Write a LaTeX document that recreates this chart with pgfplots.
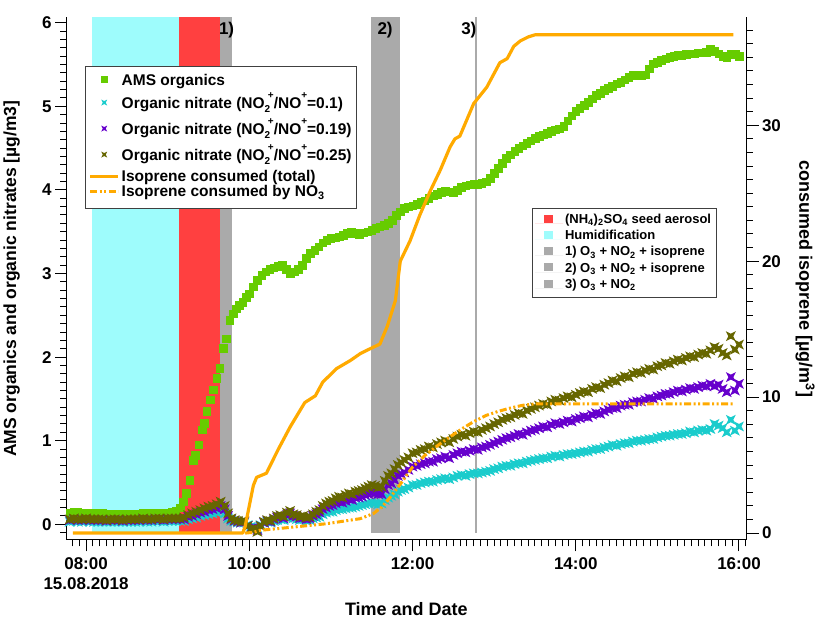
\documentclass[border=0pt]{standalone}
\usepackage{fontspec}
\setmainfont{Liberation Sans}
\usepackage{pgfplots}
\usepackage{pgfplotstable}
\pgfplotsset{compat=1.18}
\definecolor{amsgreen}{RGB}{102,204,0}
\definecolor{nitcyan}{RGB}{26,204,204}
\definecolor{nitpurple}{RGB}{102,0,204}
\definecolor{nitolive}{RGB}{102,102,0}
\definecolor{isoorange}{RGB}{255,170,0}
\definecolor{humcyan}{RGB}{158,252,252}
\definecolor{seedred}{RGB}{255,64,64}
\definecolor{bandgrey}{RGB}{170,170,170}

\newcommand\nsub[1]{\raisebox{-0.28em}{\fontsize{10}{10}\selectfont #1}}
\newcommand\nsup[1]{\raisebox{0.62em}{\fontsize{10}{10}\selectfont #1}}
\newcommand\strutx[2]{\rule[-#2]{0pt}{\dimexpr#1+#2\relax}}

\pgfdeclareplotmark{xstar}{%
  \pgfpathmoveto{\pgfqpoint{\pgfplotmarksize}{\pgfplotmarksize}}%
  \pgfpathlineto{\pgfqpoint{0pt}{0.5\pgfplotmarksize}}%
  \pgfpathlineto{\pgfqpoint{-\pgfplotmarksize}{\pgfplotmarksize}}%
  \pgfpathlineto{\pgfqpoint{-0.5\pgfplotmarksize}{0pt}}%
  \pgfpathlineto{\pgfqpoint{-\pgfplotmarksize}{-\pgfplotmarksize}}%
  \pgfpathlineto{\pgfqpoint{0pt}{-0.5\pgfplotmarksize}}%
  \pgfpathlineto{\pgfqpoint{\pgfplotmarksize}{-\pgfplotmarksize}}%
  \pgfpathlineto{\pgfqpoint{0.5\pgfplotmarksize}{0pt}}%
  \pgfpathclose
  \pgfusepathqfill}

\pgfplotstableread{
h v
7.80 0.14
7.85 0.15
7.90 0.15
7.95 0.14
8.00 0.14
8.05 0.14
8.10 0.13
8.15 0.13
8.20 0.13
8.25 0.12
8.30 0.12
8.35 0.12
8.40 0.12
8.45 0.11
8.50 0.12
8.55 0.12
8.60 0.12
8.65 0.12
8.70 0.13
8.75 0.13
8.80 0.13
8.85 0.14
8.90 0.14
8.95 0.14
9.00 0.14
9.05 0.15
9.10 0.16
9.15 0.20
9.19 0.27
9.23 0.37
9.27 0.53
9.31 0.77
9.34 0.83
9.38 0.95
9.42 1.13
9.45 1.21
9.48 1.35
9.52 1.49
9.56 1.61
9.60 1.75
9.64 1.87
9.68 2.11
9.72 2.22
9.76 2.44
9.80 2.52
9.84 2.58
9.88 2.62
9.92 2.66
9.96 2.72
10.00 2.76
10.05 2.84
10.10 2.92
10.15 2.98
10.20 3.02
10.25 3.05
10.30 3.07
10.35 3.09
10.40 3.10
10.45 3.05
10.50 3.00
10.55 3.02
10.60 3.05
10.65 3.10
10.70 3.18
10.75 3.24
10.80 3.28
10.85 3.32
10.90 3.37
10.95 3.40
11.00 3.42
11.05 3.43
11.10 3.44
11.15 3.46
11.20 3.48
11.25 3.50
11.30 3.48
11.35 3.47
11.40 3.49
11.45 3.50
11.50 3.52
11.55 3.54
11.60 3.56
11.65 3.58
11.70 3.60
11.75 3.64
11.80 3.70
11.85 3.74
11.90 3.78
11.95 3.80
12.00 3.81
12.05 3.83
12.10 3.85
12.15 3.87
12.20 3.90
12.25 3.93
12.30 3.95
12.35 3.97
12.40 3.99
12.45 3.98
12.50 3.97
12.55 4.00
12.60 4.03
12.65 4.05
12.70 4.06
12.75 4.07
12.80 4.06
12.85 4.08
12.90 4.10
12.95 4.14
13.00 4.20
13.05 4.26
13.10 4.32
13.15 4.38
13.20 4.42
13.25 4.46
13.30 4.50
13.35 4.53
13.40 4.56
13.45 4.59
13.50 4.62
13.55 4.64
13.60 4.66
13.65 4.68
13.70 4.70
13.75 4.72
13.80 4.73
13.85 4.76
13.90 4.83
13.95 4.89
14.00 4.94
14.05 4.98
14.10 5.01
14.15 5.05
14.20 5.09
14.25 5.13
14.30 5.16
14.35 5.19
14.40 5.22
14.45 5.24
14.50 5.27
14.55 5.29
14.60 5.32
14.65 5.35
14.70 5.37
14.75 5.37
14.80 5.37
14.85 5.38
14.90 5.45
14.95 5.51
15.00 5.53
15.05 5.55
15.10 5.57
15.15 5.59
15.20 5.60
15.25 5.61
15.30 5.61
15.35 5.62
15.40 5.63
15.45 5.63
15.50 5.64
15.55 5.64
15.60 5.65
15.65 5.68
15.70 5.66
15.75 5.63
15.80 5.60
15.85 5.58
15.90 5.62
15.95 5.63
16.00 5.60
}\amsdata

\pgfplotstableread{
h o p c
7.80 0.06 0.05 0.03
7.85 0.07 0.06 0.04
7.90 0.06 0.05 0.03
7.95 0.06 0.05 0.03
8.00 0.07 0.06 0.04
8.05 0.06 0.05 0.03
8.10 0.06 0.05 0.03
8.15 0.06 0.05 0.03
8.20 0.06 0.05 0.03
8.25 0.05 0.04 0.03
8.30 0.06 0.05 0.03
8.35 0.06 0.05 0.03
8.40 0.06 0.05 0.03
8.45 0.05 0.04 0.03
8.50 0.06 0.05 0.03
8.55 0.06 0.05 0.03
8.60 0.06 0.05 0.03
8.65 0.06 0.05 0.03
8.70 0.07 0.06 0.04
8.75 0.06 0.05 0.03
8.80 0.06 0.05 0.03
8.85 0.07 0.06 0.04
8.90 0.07 0.06 0.04
8.95 0.06 0.05 0.03
9.00 0.07 0.06 0.04
9.05 0.07 0.06 0.04
9.10 0.07 0.06 0.04
9.15 0.07 0.06 0.04
9.20 0.08 0.06 0.04
9.25 0.11 0.09 0.06
9.30 0.13 0.10 0.07
9.35 0.15 0.12 0.08
9.40 0.17 0.14 0.10
9.45 0.19 0.15 0.11
9.50 0.21 0.17 0.12
9.55 0.22 0.18 0.13
9.60 0.24 0.19 0.14
9.65 0.27 0.22 0.16
9.70 0.22 0.18 0.13
9.74 0.13 0.10 0.07
9.78 0.07 0.06 0.04
9.82 0.05 0.04 0.03
9.86 0.04 0.03 0.02
9.90 0.03 0.02 0.02
9.94 0.04 0.03 0.02
9.98 -0.02 -0.02 -0.01
10.02 -0.06 -0.05 -0.03
10.06 -0.05 -0.04 -0.03
10.10 -0.09 -0.07 -0.05
10.14 -0.02 -0.02 -0.01
10.18 0.03 0.02 0.02
10.22 0.05 0.04 0.03
10.26 0.04 0.03 0.02
10.30 0.07 0.06 0.04
10.34 0.10 0.08 0.05
10.38 0.11 0.09 0.06
10.42 0.09 0.07 0.05
10.46 0.14 0.11 0.08
10.50 0.16 0.13 0.09
10.54 0.12 0.10 0.07
10.58 0.11 0.09 0.06
10.62 0.09 0.07 0.05
10.66 0.10 0.08 0.06
10.70 0.08 0.06 0.04
10.74 0.09 0.07 0.05
10.78 0.12 0.10 0.07
10.82 0.15 0.12 0.08
10.86 0.17 0.14 0.09
10.90 0.22 0.18 0.12
10.94 0.25 0.20 0.14
10.98 0.27 0.22 0.15
11.02 0.28 0.23 0.15
11.06 0.31 0.25 0.17
11.10 0.33 0.27 0.18
11.14 0.32 0.26 0.18
11.18 0.35 0.28 0.19
11.22 0.37 0.30 0.20
11.26 0.36 0.29 0.20
11.30 0.39 0.32 0.21
11.34 0.40 0.32 0.22
11.38 0.41 0.33 0.23
11.42 0.43 0.35 0.24
11.46 0.45 0.36 0.25
11.50 0.47 0.38 0.26
11.54 0.46 0.37 0.25
11.58 0.44 0.36 0.24
11.62 0.45 0.36 0.25
11.66 0.52 0.42 0.29
11.70 0.58 0.47 0.32
11.74 0.61 0.49 0.34
11.78 0.66 0.53 0.36
11.82 0.71 0.58 0.39
11.86 0.74 0.60 0.41
11.90 0.77 0.62 0.42
11.95 0.80 0.65 0.44
12.00 0.85 0.69 0.47
12.05 0.86 0.70 0.47
12.10 0.89 0.72 0.49
12.15 0.90 0.73 0.50
12.20 0.93 0.75 0.51
12.25 0.92 0.75 0.51
12.30 0.96 0.78 0.53
12.35 0.98 0.79 0.54
12.40 1.00 0.81 0.55
12.45 0.98 0.79 0.54
12.50 1.02 0.83 0.56
12.55 1.05 0.85 0.58
12.60 1.07 0.87 0.59
12.65 1.06 0.86 0.58
12.70 1.09 0.88 0.60
12.75 1.11 0.90 0.61
12.80 1.10 0.89 0.61
12.85 1.13 0.92 0.62
12.90 1.15 0.93 0.63
12.95 1.17 0.95 0.64
13.00 1.20 0.97 0.66
13.05 1.22 0.99 0.67
13.10 1.25 1.01 0.69
13.15 1.27 1.03 0.70
13.20 1.28 1.04 0.70
13.25 1.31 1.06 0.72
13.30 1.33 1.08 0.73
13.35 1.32 1.07 0.73
13.40 1.36 1.10 0.75
13.45 1.38 1.12 0.76
13.50 1.40 1.13 0.77
13.55 1.42 1.15 0.78
13.60 1.44 1.17 0.79
13.65 1.43 1.16 0.79
13.70 1.47 1.19 0.81
13.75 1.49 1.21 0.82
13.80 1.48 1.20 0.81
13.85 1.51 1.22 0.83
13.90 1.53 1.24 0.84
13.95 1.52 1.23 0.84
14.00 1.55 1.26 0.85
14.05 1.57 1.27 0.86
14.10 1.59 1.29 0.87
14.15 1.58 1.28 0.87
14.20 1.62 1.31 0.89
14.25 1.64 1.33 0.90
14.30 1.63 1.32 0.90
14.35 1.67 1.35 0.92
14.40 1.69 1.37 0.93
14.45 1.72 1.39 0.95
14.50 1.71 1.39 0.94
14.55 1.75 1.42 0.96
14.60 1.77 1.43 0.97
14.65 1.76 1.43 0.97
14.70 1.80 1.46 0.99
14.75 1.82 1.47 1.00
14.80 1.81 1.47 1.00
14.85 1.84 1.49 1.01
14.90 1.86 1.51 1.02
14.95 1.85 1.50 1.02
15.00 1.89 1.53 1.04
15.05 1.90 1.54 1.05
15.10 1.93 1.56 1.06
15.15 1.92 1.56 1.06
15.20 1.95 1.58 1.07
15.25 1.97 1.60 1.08
15.30 1.96 1.59 1.08
15.35 1.99 1.61 1.09
15.40 2.01 1.63 1.11
15.45 2.00 1.62 1.10
15.50 2.03 1.64 1.12
15.55 2.05 1.66 1.13
15.60 2.04 1.65 1.12
15.65 2.08 1.68 1.14
15.70 2.12 1.65 1.20
15.75 2.10 1.67 1.18
15.80 2.05 1.62 1.15
15.85 2.02 1.58 1.10
15.90 2.25 1.76 1.25
15.95 2.09 1.60 1.12
16.00 2.15 1.68 1.17
}\nitdata

\pgfplotstableread{
h v
7.84 0
9.92 0
9.95 0.5
10.00 2.0
10.05 3.5
10.09 4.1
10.21 4.4
10.35 6.1
10.50 7.8
10.68 9.6
10.81 10.1
10.90 11.1
11.07 12.1
11.24 12.7
11.36 13.2
11.46 13.5
11.60 13.9
11.69 15.2
11.79 17.1
11.85 20.0
11.97 21.5
12.09 23.4
12.22 25.2
12.34 26.7
12.46 28.4
12.52 29.0
12.58 29.2
12.75 31.6
12.91 32.8
13.07 34.6
13.16 34.9
13.24 35.8
13.32 36.2
13.42 36.5
13.50 36.65
15.93 36.65
}\isototal

\pgfplotstableread{
h v
9.95 0
10.05 0.05
10.13 0.2
10.54 0.44
10.95 0.69
11.36 1.06
11.52 1.43
11.62 1.9
11.73 2.65
11.85 3.6
12.00 4.85
12.15 5.7
12.30 6.4
12.45 7.05
12.60 7.65
12.75 8.2
12.90 8.65
13.05 8.95
13.20 9.2
13.35 9.4
13.50 9.5
15.93 9.5
}\isono

\begin{document}
\begin{tikzpicture}
\path[use as bounding box] (-66.7pt,-81pt) rectangle (750.3pt,540pt);

% Axis 1: bands, left axis, labels
\begin{axis}[
  scale only axis, width=679.3pt, height=522.7pt,
  xmin=7.763, xmax=16.086, ymin=-0.188, ymax=6.065,
  axis x line*=bottom, axis y line*=left,
  axis line style={black, line width=1pt},
  xtick={8,10,12,14,16},
  xticklabels={{08:00\\15.08.2018},{10:00},{12:00},{14:00},{16:00}},
  minor xtick={7.833333,7.916667,...,16.05},
  ytick={0,1,...,6},
  minor ytick={-0.1,0,...,6.05},
  tick align=outside,
  major tick length=11.5pt, minor tick length=6.5pt,
  every tick/.append style={black, line width=1pt},
  /pgf/number format/assume math mode=true,
  tick label style={font=\bfseries\fontsize{17}{20}\selectfont},
  xticklabel style={align=center, yshift=-3pt},
  xlabel={Time and Date},
  ylabel={AMS organics and organic nitrates [µg/m3]},
  every axis x label/.style={at={(axis description cs:0.5,-0.132)}, anchor=center,
    font=\bfseries\fontsize{18}{20}\selectfont},
  every axis y label/.style={at={(axis description cs:-0.081,0.5)}, rotate=90, anchor=center,
    font=\bfseries\fontsize{17.5}{20}\selectfont},
  legend style={at={(axis description cs:0.6845,0.6346)}, anchor=north west,
    draw=black!75, line width=0.8pt, fill=white,
    font=\bfseries\fontsize{13}{14}\selectfont, row sep=0pt,
    inner xsep=3pt, inner ysep=3.5pt,
    nodes={inner ysep=0pt, text depth=}, cells={anchor=base west}},
  legend image code/.code={\path (0pt,0pt) -- (28pt,0pt); \fill[#1] (9pt,0.65pt) rectangle (17.5pt,8.65pt);},
]
\addplot[fill=seedred, draw=none] coordinates {(9.143,-0.104) (9.642,-0.104) (9.642,6.065) (9.143,6.065)} -- cycle;
\addlegendentry{\strutx{11pt}{5.3pt}(NH\textsubscript{4})\textsubscript{2}SO\textsubscript{4} seed aerosol}
\addplot[fill=humcyan, draw=none] coordinates {(8.077,-0.104) (9.143,-0.104) (9.143,6.065) (8.077,6.065)} -- cycle;
\addlegendentry{\strutx{11pt}{5.3pt}Humidification}
\addplot[fill=bandgrey, draw=none] coordinates {(9.642,-0.104) (9.786,-0.104) (9.786,6.065) (9.642,6.065)} -- cycle;
\addlegendentry{\strutx{11pt}{5.3pt}1) O\textsubscript{3} + NO\textsubscript{2} + isoprene}
\addplot[fill=bandgrey, draw=none] coordinates {(11.493,-0.104) (11.848,-0.104) (11.848,6.065) (11.493,6.065)} -- cycle;
\addlegendentry{\strutx{11pt}{5.3pt}2) O\textsubscript{3} + NO\textsubscript{2} + isoprene}
\addplot[fill=bandgrey, draw=none] coordinates {(12.767,-0.104) (12.795,-0.104) (12.795,6.065) (12.767,6.065)} -- cycle;
\addlegendentry{\strutx{11pt}{5.3pt}3) O\textsubscript{3} + NO\textsubscript{2}}
\node[font=\bfseries\fontsize{17}{17}\selectfont] at (axis cs:9.722,5.91) {1)};
\node[font=\bfseries\fontsize{17}{17}\selectfont] at (axis cs:11.664,5.91) {2)};
\node[font=\bfseries\fontsize{17}{17}\selectfont] at (axis cs:12.69,5.91) {3)};
\end{axis}

% Axis 2: markers (left scale), legend 1
\begin{axis}[
  scale only axis, width=679.3pt, height=522.7pt,
  xmin=7.763, xmax=16.086, ymin=-0.188, ymax=6.065,
  hide axis,
  legend style={at={(axis description cs:0.0274,0.9074)}, anchor=north west,
    draw=black!75, line width=0.8pt, fill=white,
    font=\bfseries\fontsize{15.5}{16}\selectfont, row sep=0pt,
    inner xsep=3pt, inner ysep=5.5pt,
    nodes={inner ysep=0pt, text depth=}, cells={anchor=base west}},
  legend image code/.code={\draw[mark repeat=2,mark phase=2,#1] plot coordinates {(0pt,5.5pt) (14pt,5.5pt) (28pt,5.5pt)};},
  legend image post style={mark size=3pt},
]
\addplot[only marks, mark=square*, mark size=3.8pt, color=amsgreen] table[x=h,y=v] {\amsdata};
\addlegendentry{\strutx{13.5pt}{4pt}AMS organics}
\addplot[only marks, mark=xstar, mark size=5pt, color=nitcyan] table[x=h,y=c] {\nitdata};
\addlegendentry{\strutx{19pt}{6pt}Organic nitrate (NO\nsub{2}\hspace{-0.15em}\nsup{+}/NO\nsup{+}=0.1)}
\addplot[only marks, mark=xstar, mark size=5pt, color=nitpurple] table[x=h,y=p] {\nitdata};
\addlegendentry{\strutx{20pt}{6pt}Organic nitrate (NO\nsub{2}\hspace{-0.15em}\nsup{+}/NO\nsup{+}=0.19)}
\addplot[only marks, mark=xstar, mark size=5pt, color=nitolive] table[x=h,y=o] {\nitdata};
\addlegendentry{\strutx{20pt}{6pt}Organic nitrate (NO\nsub{2}\hspace{-0.15em}\nsup{+}/NO\nsup{+}=0.25)}
\addlegendimage{isoorange, line width=3pt}
\addlegendentry{\strutx{15.7pt}{3.3pt}Isoprene consumed (total)}
\addlegendimage{isoorange, line width=3pt, dash pattern=on 7pt off 2.5pt on 2pt off 2.5pt on 2pt off 2.5pt}
\addlegendentry{\strutx{11.5pt}{6pt}Isoprene consumed by NO\textsubscript{3}}
\end{axis}

% Axis 3: right scale, isoprene
\begin{axis}[
  scale only axis, width=679.3pt, height=522.7pt,
  xmin=7.763, xmax=16.086, ymin=-0.51, ymax=37.94,
  axis y line*=right, axis x line=none,
  axis line style={black, line width=1pt},
  ytick={0,10,20,30},
  minor ytick={0,1,...,37},
  tick align=outside,
  major tick length=12.5pt, minor tick length=6.5pt,
  every tick/.append style={black, line width=1pt},
  /pgf/number format/assume math mode=true,
  tick label style={font=\bfseries\fontsize{17}{20}\selectfont},
  ylabel={consumed isoprene [µg/m\textsuperscript{3}]},
  every axis y label/.style={at={(axis description cs:1.087,0.5)}, rotate=-90, anchor=center,
    font=\bfseries\fontsize{18}{20}\selectfont},
]
\addplot[isoorange, line width=3.2pt, line join=round] table[x=h,y=v] {\isototal};
\addplot[isoorange, line width=3pt, dash pattern=on 7pt off 2.5pt on 2pt off 2.5pt on 2pt off 2.5pt] table[x=h,y=v] {\isono};
\end{axis}
\end{tikzpicture}
\end{document}
